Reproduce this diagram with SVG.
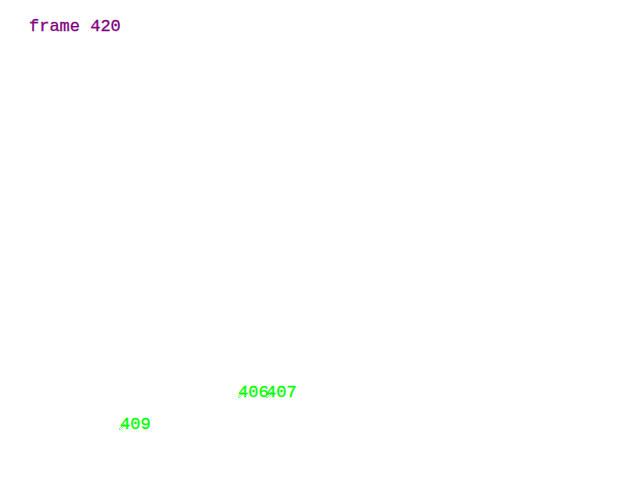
<svg xmlns="http://www.w3.org/2000/svg" width="640" height="480" viewBox="0 0 640 480">
<style>
.t{font-family:"Liberation Mono","Courier New",monospace;font-size:17px}
.lbl{fill:#00ff00;stroke:#00ff00;stroke-width:0.3}
.mk{fill:#ffffff;stroke:#7fff7f;stroke-width:1}
</style>
<rect width="640" height="480" fill="#ffffff"/>
<text class="t" x="29" y="31" fill="#800080" stroke="#800080" stroke-width="0.3">frame 420</text>
<g id="connectors"></g>
<g id="n406"><path class="mk" d="M238,397 L243,392 L244,393 L239,398 Z"/><text class="t lbl" x="238" y="397">406</text></g>
<g id="n407"><path class="mk" d="M266,397 L271,392 L272,393 L267,398 Z"/><text class="t lbl" x="266" y="397">407</text></g>
<g id="n409"><path class="mk" d="M119,429 L124,424 L125,425 L120,430 Z"/><text class="t lbl" x="120" y="429">409</text></g>
</svg>
